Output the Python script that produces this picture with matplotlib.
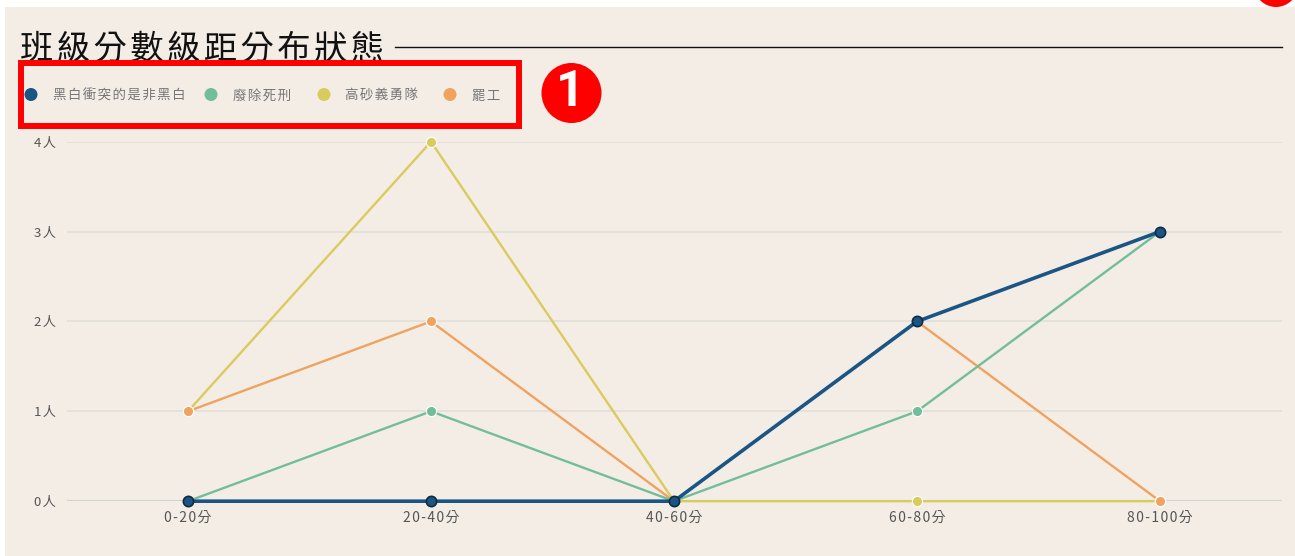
import matplotlib
matplotlib.use("Agg")
import matplotlib.pyplot as plt
from matplotlib.patches import Rectangle, Circle
from matplotlib.transforms import Affine2D

plt.rcParams['font.family'] = ['Noto Sans CJK TC', 'DejaVu Sans']

categories = ['0-20分', '20-40分', '40-60分', '60-80分', '80-100分']
y_ticks = [0, 1, 2, 3, 4]
y_labels = ['0人', '1人', '2人', '3人', '4人']
names = ['黑白衝突的是非黑白', '廢除死刑', '高砂義勇隊', '罷工']
blue = [0, 0, 0, 2, 3]
green = [0, 1, 0, 1, 3]
yellow = [1, 4, 0, 0, 0]
orange = [1, 2, 0, 2, 0]
colors = ['#1B5585', '#72BE9A', '#DACB5E', '#F0A35E']
title = '班級分數級距分布狀態'


def spaced(s):
    """Letter spacing through hair spaces, as matplotlib has no tracking option."""
    return '\u200a'.join(s)


W, H = 1295, 556
BG = '#F4EDE6'
GRID = '#E3E0DA'
TXT = '#555555'
MS = 7.4

fig = plt.figure(figsize=(W / 100, H / 100), dpi=100, facecolor='white')
px = Affine2D().scale(1, -1).translate(0, H)  # pixel coords, y downward

fig.add_artist(Rectangle((5, 7), W - 5, H - 7, transform=px, fc=BG, ec='none', zorder=-5))

L, R, T, B = 66.5, 1281.5, 141.7, 501.2
ax = fig.add_axes([L / W, 1 - B / H, (R - L) / W, (B - T) / H])
ax.patch.set_alpha(0)
ax.set_xlim(-0.5, 4.5)
ax.set_ylim(0, 4)
for s in ax.spines.values():
    s.set_visible(False)
ax.set_xticks(range(len(categories)))
ax.set_xticklabels([spaced(c) for c in categories], fontsize=10, color=TXT)
ax.set_yticks(y_ticks)
ax.set_yticklabels([spaced(c) for c in y_labels], fontsize=9.5, color=TXT)
ax.tick_params(length=0)
ax.tick_params(axis='x', pad=7)
ax.tick_params(axis='y', pad=7.5)
ax.grid(axis='y', color=GRID, lw=1.3, zorder=0)
ax.grid(axis='x', visible=False)
ax.axhline(0, color='#CFD3CF', lw=1.6, zorder=1)
ax.set_axisbelow(True)

xs = list(range(len(categories)))
order = [(orange, colors[3]), (green, colors[1]), (yellow, colors[2])]
for i, (vals, c) in enumerate(order):
    ax.plot(xs, vals, color=c, lw=1.7, marker='o', ms=MS, mfc=c, mec='white', mew=0.8,
            clip_on=False, zorder=3 + i)
# orange markers stay visible over yellow where they coincide
ax.plot(xs, orange, ls='none', marker='o', ms=MS, mfc=colors[3], mec='white', mew=0.8,
        clip_on=False, zorder=6)
ax.plot(xs, blue, color=colors[0], lw=2.6, marker='o', ms=MS, mfc=colors[0], mec='#0E2B40', mew=1.2,
        clip_on=False, zorder=7)

# title + rule
fig.text(20 / W, 1 - 49 / H, spaced(title), fontsize=24, color='#111111', va='center', ha='left')
fig.add_artist(plt.Line2D([395, 1282], [46.5, 46.5], transform=px, color='#111111', lw=1))

# legend
leg_x = [31, 211, 324, 450]
txt_x = [53, 233, 345, 472]
for lx, tx, n, c in zip(leg_x, txt_x, names, colors):
    fig.add_artist(Circle((lx, 94.5), 6.5, transform=px, fc=c, ec='none'))
    fig.text(tx / W, 1 - 96 / H, spaced(n), fontsize=9.7, color='#777777', va='center', ha='left')

# red annotation
fig.add_artist(Rectangle((21, 63), 498, 63, transform=px, fc='none', ec='#FF0000', lw=4.3, zorder=10))
fig.add_artist(Circle((571.5, 93), 30, transform=px, fc='#FF0000', ec='none', zorder=10))
fig.text(570 / W, 1 - 93 / H, '1', fontsize=36, fontweight='bold', color='white',
         family='Roboto', va='center', ha='center', zorder=11)
fig.add_artist(Circle((1276, -15), 22, transform=px, fc='#FF0000', ec='none', zorder=10, clip_on=False))

fig.savefig('out.png', dpi=100, facecolor='white')
